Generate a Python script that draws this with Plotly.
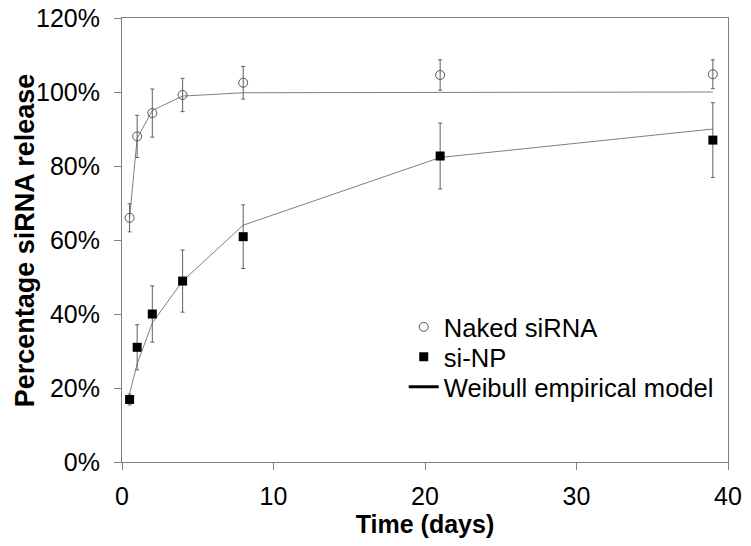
import plotly.graph_objects as go

time_days = [0.5, 1, 2, 4, 8, 21, 39]

naked_mean = [66.0, 88.0, 94.3, 99.2, 102.5, 104.6, 104.8]
naked_err = [3.8, 5.7, 6.5, 4.5, 4.4, 4.1, 3.9]
naked_model = [66.0, 87.5, 95.0, 98.9, 99.8, 99.9, 100.0]

sinp_mean = [16.9, 31.0, 40.0, 48.9, 60.9, 82.7, 87.0]
sinp_err = [1.5, 6.1, 7.6, 8.4, 8.6, 8.9, 10.1]
sinp_model = [18.5, 26.5, 37.6, 48.9, 64.0, 82.3, 90.0]

y_ticks = [0, 20, 40, 60, 80, 100, 120]
y_tick_labels = ["0%", "20%", "40%", "60%", "80%", "100%", "120%"]
x_ticks = [0, 10, 20, 30, 40]

x_title = "Time (days)"
y_title = "Percentage siRNA release"

FONT = "Liberation Sans, Arial, sans-serif"
GRAY = "#7f7f7f"

fig = go.Figure()

fig.add_trace(go.Scatter(
    x=time_days, y=naked_model, mode="lines",
    line=dict(color=GRAY, width=1), showlegend=False, hoverinfo="skip"))
fig.add_trace(go.Scatter(
    x=time_days, y=sinp_model, mode="lines",
    line=dict(color=GRAY, width=1), showlegend=False, hoverinfo="skip"))

fig.add_trace(go.Scatter(
    x=time_days, y=naked_mean, mode="markers", name="Naked siRNA",
    legend="legend",
    marker=dict(symbol="circle-open", size=9, color="#555555", line=dict(width=1)),
    error_y=dict(type="data", array=naked_err, color="#606060", thickness=1, width=2)))
fig.add_trace(go.Scatter(
    x=time_days, y=sinp_mean, mode="markers", name="si-NP",
    legend="legend2",
    marker=dict(symbol="square", size=9, color="black"),
    error_y=dict(type="data", array=sinp_err, color="#606060", thickness=1, width=2)))
fig.add_trace(go.Scatter(
    x=[None], y=[None], mode="lines", name="Weibull empirical model",
    legend="legend3",
    line=dict(color="black", width=3)))

leg_common = dict(x=0.4649, xanchor="left", yanchor="middle",
                  bgcolor="rgba(0,0,0,0)", font=dict(size=25.6),
                  itemwidth=30, borderwidth=0)

fig.update_layout(
    width=751, height=546,
    margin=dict(l=122, r=23, t=18, b=84),
    paper_bgcolor="white", plot_bgcolor="white",
    font=dict(family=FONT, size=25, color="black"),
    showlegend=True,
    legend=dict(y=0.3036, **leg_common),
    legend2=dict(y=0.2360, **leg_common),
    legend3=dict(y=0.1684, **leg_common),
    xaxis=dict(
        range=[0, 40], tickvals=x_ticks, ticks="outside", ticklen=7,
        tickcolor=GRAY, showline=True, linecolor=GRAY, linewidth=1,
        mirror=True, showgrid=False, zeroline=False, automargin=False,
        tickfont=dict(size=25), ticklabelstandoff=5,
        title=dict(text="<b>" + x_title + "</b>", font=dict(size=25), standoff=1)),
    yaxis=dict(
        range=[0, 120], tickvals=y_ticks, ticktext=y_tick_labels,
        ticks="outside", ticklen=7, tickcolor=GRAY, showline=True,
        linecolor=GRAY, linewidth=1, mirror=True, showgrid=False,
        zeroline=False, automargin=False, tickfont=dict(size=25),
        ticklabelstandoff=9),
    annotations=[dict(
        text="<b>" + y_title + "</b>", textangle=-90,
        xref="paper", yref="paper", x=-0.1595, y=0.5,
        xanchor="center", yanchor="middle", showarrow=False,
        font=dict(size=27, family=FONT, color="black"))],
)

fig.write_html("out.html", post_script="document.body.style.margin='0';",
               config={"displayModeBar": False})
